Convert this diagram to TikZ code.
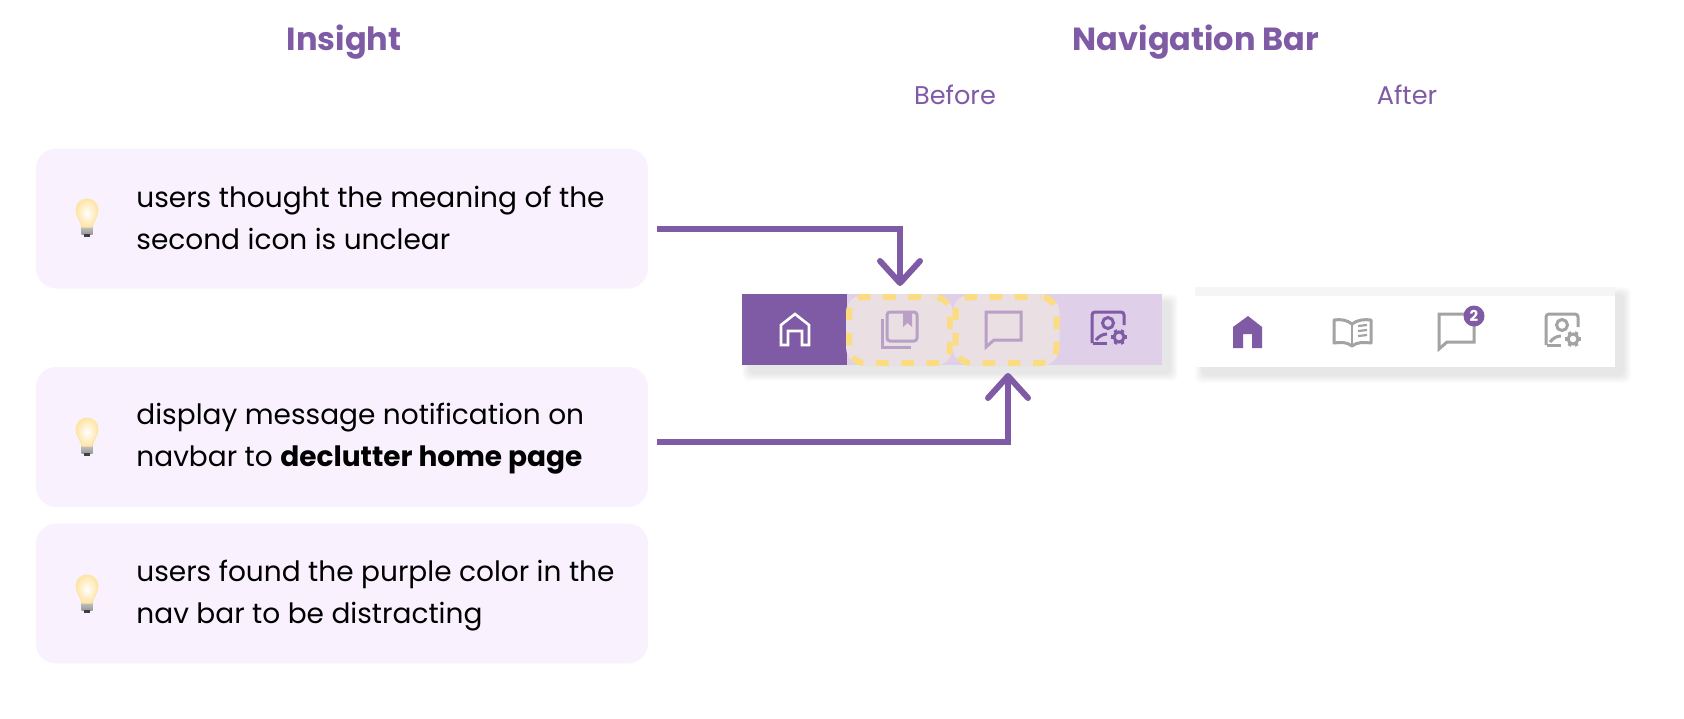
\documentclass[tikz,border=0pt]{standalone}
\usepackage{fontspec}
\setmainfont{Poppins}
\usetikzlibrary{arrows.meta}
\definecolor{navpurple}{HTML}{7F5BA6}
\definecolor{navlight}{HTML}{DFCFE9}
\definecolor{cardbg}{HTML}{F9F2FE}
\definecolor{dashyellow}{HTML}{FBDC80}
\definecolor{dimfill}{HTML}{EADFE3}
\definecolor{dimicon}{HTML}{B9A0C6}
\definecolor{iconFaint}{HTML}{A3A3A3}
\tikzset{
 card/.style={fill=cardbg, rounded corners=10pt, minimum width=306pt, minimum height=70pt, inner sep=0},
 cardtext/.style={anchor=west, align=left, font=\fontsize{14}{21}\selectfont, inner sep=0, text=black},
 heading/.style={text=navpurple, font=\fontsize{16}{18}\selectfont\bfseries, inner sep=0},
 subheading/.style={text=navpurple, font=\fontsize{12.8}{14}\selectfont, inner sep=0},
 dashbox/.style={preaction={draw=dimfill, line width=3pt, solid}, draw=dashyellow, fill=dimfill, line width=3pt, dash pattern=on 6.2pt off 6.4pt, dash phase=6pt, rounded corners=8pt, minimum width=50.5pt, minimum height=33pt, inner sep=0},
 flow/.style={draw=navpurple, line width=3pt, -{Straight Barb[round,length=11pt,width=20pt]}},
 iconline/.style={line width=1.5pt, line join=miter, fill=none},
 badge/.style={circle, fill=navpurple, text=white, minimum size=10.5pt, inner sep=0, font=\fontsize{7.5}{8}\selectfont\bfseries},
 pics/bulb/.style={code={
  \fill[top color=gray!45, bottom color=gray!80] (-5.5,8) rectangle (5.5,16);
  \fill[gray!50!black] (-3,16) rectangle (3,19);
  \draw[draw=dashyellow!70, line width=.5pt, inner color=white, outer color=yellow!40!orange!35!white]
   (-5,9) .. controls (-6,3) and (-11,-1) .. (-11,-8) arc (180:360:11) .. controls (11,-1) and (6,3) .. (5,9) -- cycle;
 }},
 pics/chaticon/.style={code={
  \draw[iconline,#1] (8,28) -- (35,28) -- (35,0) -- (0,0) -- (0,35) -- cycle;
 }},
 pics/gearicon/.style={code={
  \draw[iconline,#1,rounded corners=1.5] (0,31) -- (0,0) -- (32,0) -- (32,13);
  \draw[iconline,#1] (1,31) -- (15,31);
  \draw[iconline,#1] (4,28) .. controls (7,24) and (11,22) .. (15,22);
  \draw[iconline,#1] (16,11) circle (5.5);
  \draw[iconline,#1] (27,25) circle (5);
  \foreach \a in {0,60,...,300}
   \draw[#1, line width=1.7pt] (27,25) ++(\a:5) -- ++(\a:3);
 }},
}
\begin{document}
\begin{tikzpicture}[x=.5pt,y=-.5pt]
\useasboundingbox (0,0) rectangle (1684,718);
\node[heading] (insightHead) at (344,42) {Insight};
\node[heading] (navHead) at (1196,42) {Navigation Bar};
\node[subheading] (beforeHead) at (955,95) {Before};
\node[subheading] (afterHead) at (1407,95) {After};
% cards
\node[card] (cardA) at (342,218.5) {};
\node[card] (cardB) at (342,437) {};
\node[card] (cardC) at (342,593.5) {};
\node[cardtext] (textA) at (136,218) {users thought the meaning of the\\second icon is unclear};
\node[cardtext] (textB) at (136,438.5) {display message notification on\\navbar to \textbf{declutter home page}};
\node[cardtext] (textC) at (136,595.5) {users found the purple color in the\\nav bar to be distracting};
\foreach \y in {218,437,594}
 \pic at (87,\y) {bulb};
% shadows
\foreach \l/\t/\r/\b in {742/294/1162/365,1195/287/1615/367} {
 \foreach \d in {1,...,8}
  \fill[black, opacity=.012, rounded corners=3] ({\l+8-\d},{\t+8-\d}) rectangle ({\r+8+\d},{\b+8+\d});
}
% before
\fill[navlight] (742,294) rectangle (1162,365);
\fill[navpurple] (742,294) rectangle (847,365);
\node[dashbox] (bookBox) at (899.5,330) {};
\node[dashbox] (chatBox) at (1006,330) {};
\draw[white, iconline, line width=1.3pt] (781,345) -- (781,325) -- (795,314) -- (809,325) -- (809,345) -- (802,345) -- (802,331) -- (788,331) -- (788,345) -- cycle;
\draw[iconline, dimicon] (911,347) -- (882,347) -- (882,319);
\draw[iconline, dimicon, rounded corners=1.5] (887,312) rectangle (917,341);
\fill[dimicon] (903,312) -- (912,312) -- (912,327) -- (907.5,323) -- (903,327) -- cycle;
\pic at (986,312) {chaticon=dimicon};
\pic at (1092,312) {gearicon=navpurple};
% after
\fill[white] (1195,287) rectangle (1615,367);
\fill[black!4] (1195,287) rectangle (1615,296);
\fill[navpurple] (1248,316) -- (1262,327) -- (1262,348) -- (1252,348) -- (1252,334) -- (1243,334) -- (1243,348) -- (1233,348) -- (1233,327) -- cycle;
\draw[iconline, iconFaint, line join=round] (1352,324) .. controls (1347,320) and (1341,319) .. (1334,320) -- (1334,343) .. controls (1341,342) and (1347,342) .. (1352,346) .. controls (1357,342) and (1364,342) .. (1371,343) -- (1371,320) .. controls (1364,319) and (1357,320) .. (1352,324) -- cycle;
\draw[iconFaint, line width=1.4pt] (1352,324) -- (1352,345);
\foreach \y in {326,331,336}
 \draw[iconFaint, line width=1.1pt] (1358,\y) -- (1367,{\y-1});
\pic at (1439,314) {chaticon=iconFaint};
\node[badge] (msgBadge) at (1474,316) {2};
\pic at (1546,314) {gearicon=iconFaint};
% arrows
\coordinate (startA) at (657,229);
\coordinate (tipA) at (900,286);
\coordinate (startB) at (657,442);
\coordinate (tipB) at (1008,373);
\draw[flow] (startA) -| (tipA);
\draw[flow] (startB) -| (tipB);
\end{tikzpicture}
\end{document}
